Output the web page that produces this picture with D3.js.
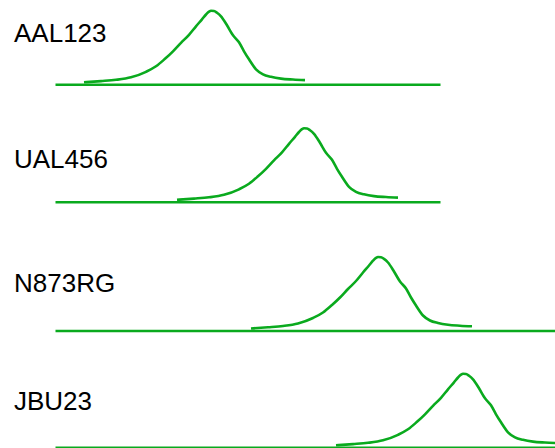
<!DOCTYPE html>
<html>
<head>
<meta charset="utf-8">
<script src="https://cdn.jsdelivr.net/npm/d3@7"></script>
<style>
  html, body { margin: 0; padding: 0; background: #ffffff; }
  svg { display: block; }
</style>
</head>
<body>
<svg id="chart" width="555" height="448"></svg>
<script>
// ---- data ----
const flights = ["AAL123", "UAL456", "N873RG", "JBU23"];
// position of each flight's density peak along the shared x domain
const peakPositions = [156, 249, 323, 408];
// extent (domain end) of each row's baseline axis
const axisEnds = [385, 385, 500, 500];
// density profile (offset from peak, density)
const profileOffsets = [-127, -110, -95, -80, -65, -55, -46, -38, -30, -22, -15, -9, -5, -2, 0, 3, 6, 10, 16, 22, 28, 33, 38, 45, 52, 60, 70, 82, 94];
const profileDensity = [1, 2.2, 3.5, 6, 11.5, 17, 24.5, 32, 40.5, 48.5, 57, 64, 68.8, 71.6, 72.5, 72.3, 70.6, 67, 58, 48, 41, 32, 24, 14, 9, 6.5, 4.7, 3.8, 3.2];

// ---- layout ----
const W = 555, H = 448;
const rowBaselineY = [84.3, 201.8, 330.5, 447.3];
const labelY = [41.5, 168, 292, 410];
const color = "#0aaa1e";

const svg = d3.select("#chart");

const x = d3.scaleLinear().domain([0, 500]).range([55, 555]);
const h = d3.scaleLinear().domain([0, 72.5]).range([0, 72.5]);

flights.forEach((name, i) => {
  const g = svg.append("g").attr("transform", `translate(0,${rowBaselineY[i]})`);

  // baseline axis
  const axis = d3.axisBottom(d3.scaleLinear().domain([0, axisEnds[i]]).range([x(0), x(axisEnds[i])]))
    .ticks(0).tickSize(0).tickSizeOuter(0).tickFormat("");
  const ax = g.append("g").call(axis);
  ax.select(".domain").attr("stroke", color).attr("stroke-width", 2.6);

  // density curve
  const pts = profileOffsets.map((o, k) => [peakPositions[i] + o, profileDensity[k]]);
  const line = d3.line()
    .x(d => x(d[0]))
    .y(d => -1 - h(d[1]))
    .curve(d3.curveMonotoneX);
  g.append("path")
    .datum(pts)
    .attr("d", line)
    .attr("fill", "none")
    .attr("stroke", color)
    .attr("stroke-width", 2.6)
    .attr("stroke-linejoin", "round")
    .attr("stroke-linecap", "butt");

  // label
  svg.append("text")
    .attr("x", 14)
    .attr("y", labelY[i])
    .attr("font-family", "Liberation Sans, Arial, sans-serif")
    .attr("font-size", 26)
    .attr("fill", "#000")
    .text(name);
});
</script>
</body>
</html>
